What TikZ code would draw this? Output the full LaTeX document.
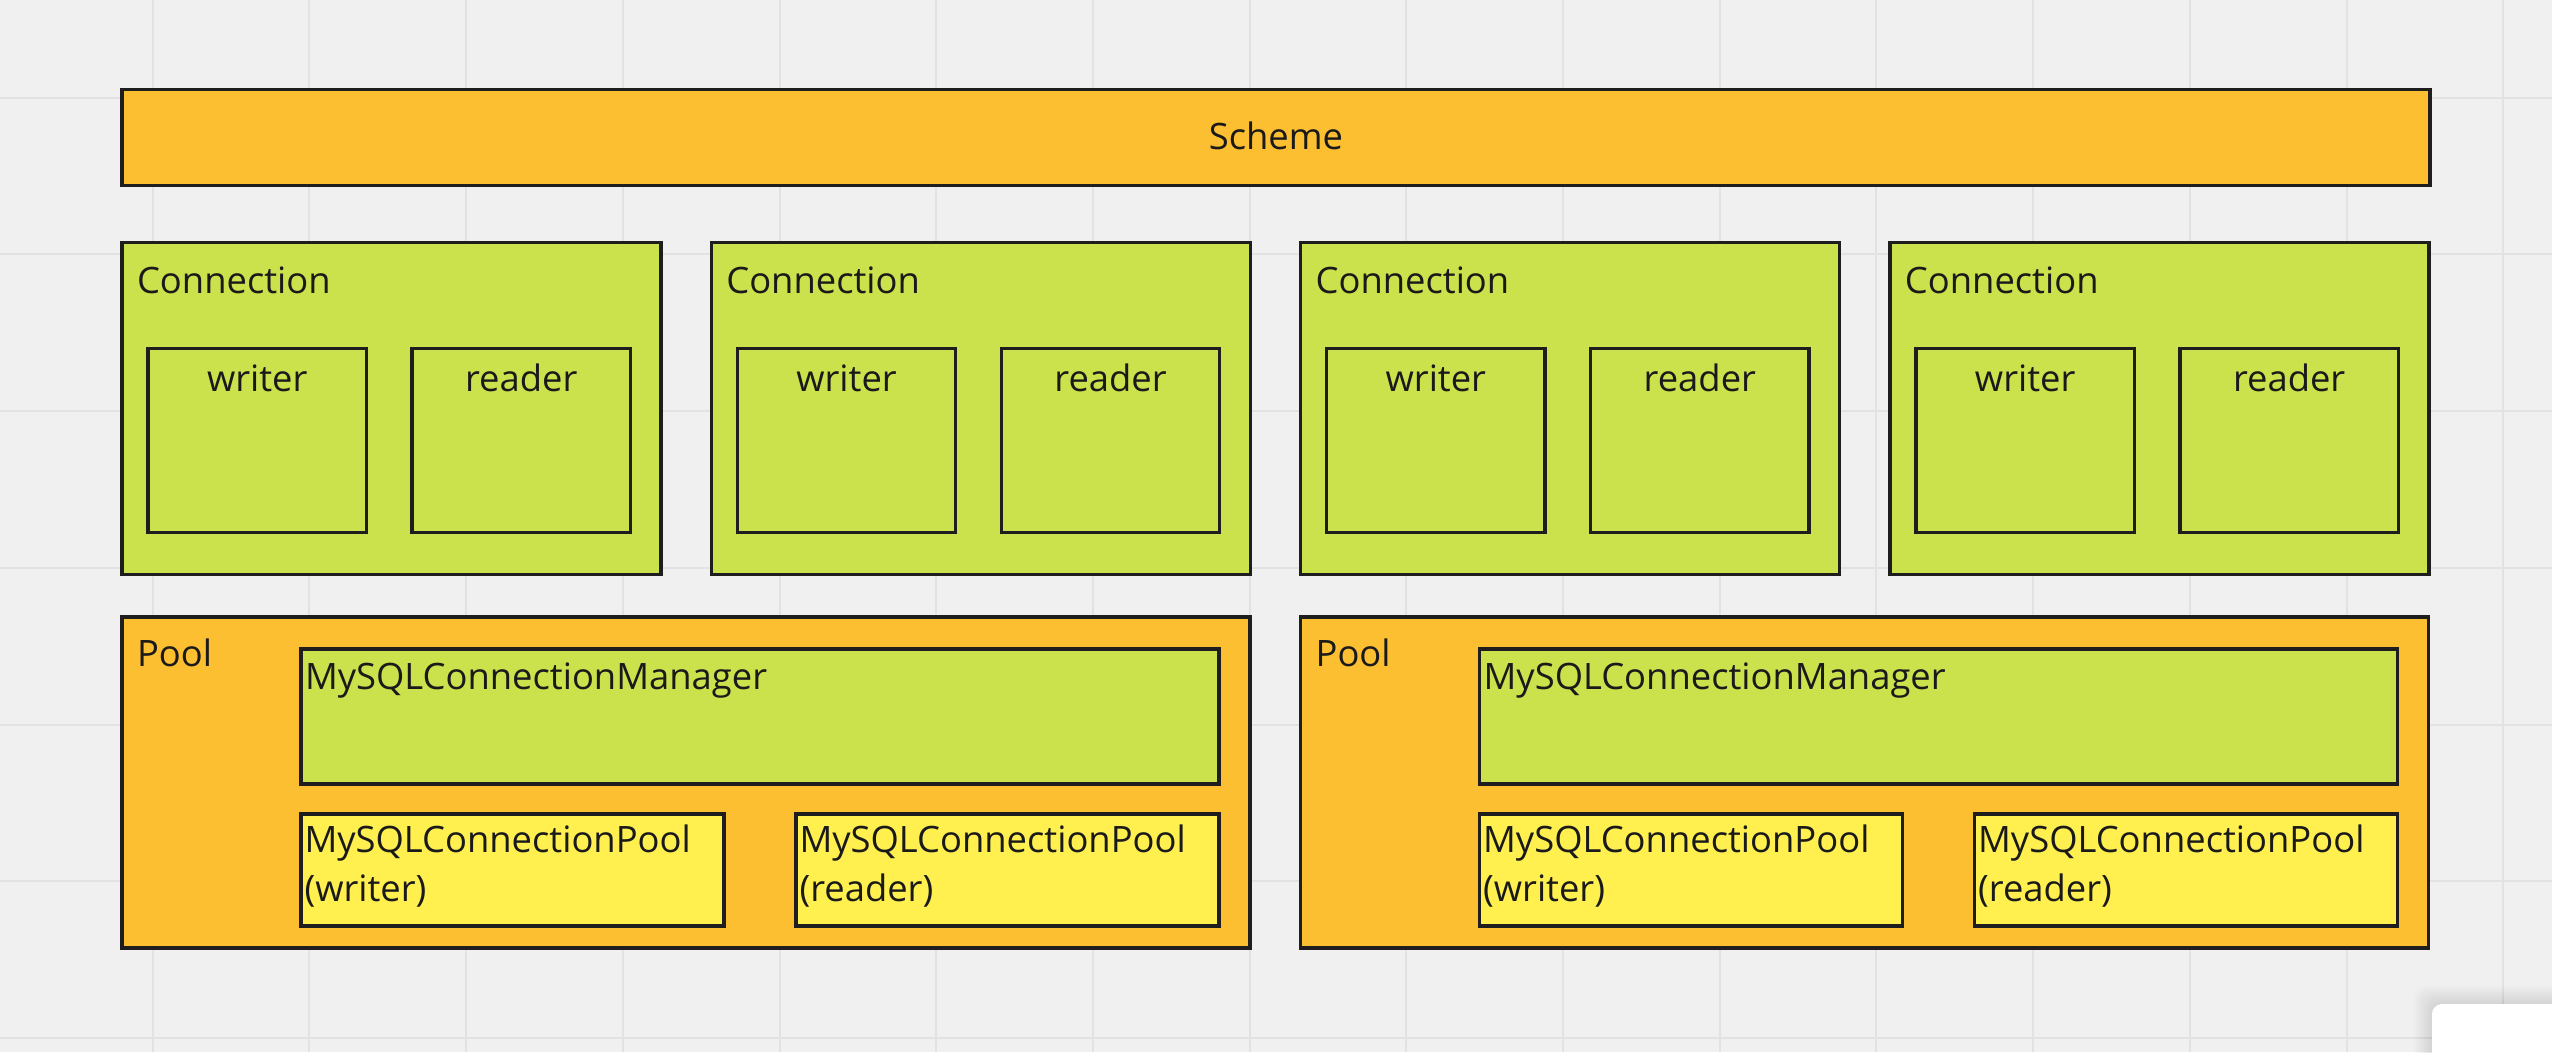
\documentclass[tikz,border=0pt]{standalone}
\usepackage{fontspec}
\setmainfont{Open Sans}
\usetikzlibrary{positioning}
\definecolor{paper}{HTML}{F0F0F0}
\definecolor{gridcol}{HTML}{E2E2E2}
\definecolor{boxorange}{HTML}{FBBF31}
\definecolor{boxgreen}{HTML}{CBE24C}
\definecolor{boxyellow}{HTML}{FFEF4F}
\definecolor{boxline}{HTML}{1E1E1E}
\definecolor{inkcol}{HTML}{1A1A1A}
\newcommand{\twolines}[2]{\parbox[t]{40mm}{\raggedright #1\\#2}}

\begin{document}
\begin{tikzpicture}[x=0.1mm,y=-0.1mm,
font=\fontsize{10.35}{14.1}\selectfont,
every node/.style={inner sep=0pt,outer sep=0pt},
box/.style={draw=boxline,line width=0.95pt,anchor=north west},
obox/.style={box,fill=boxorange},
gbox/.style={box,fill=boxgreen},
ybox/.style={box,fill=boxyellow},
txt/.style={text=inkcol,anchor=base west},
gridline/.style={draw=gridcol,line width=0.57pt}]

%board background with grid
\useasboundingbox (0,0) rectangle (2552,1052);
\fill[paper] (0,0) rectangle (2552,1052);
\begin{scope}
\clip (0,0) rectangle (2552,1052);
\foreach \k in {-1,...,16}
	\draw[gridline] ({152.7+156.7*\k},0) -- ++(0,1052);
\foreach \k in {-1,...,6}
	\draw[gridline] (0,{97.7+156.7*\k}) -- ++(2552,0);
%panel in the corner
\foreach \d in {2,4,...,18}
	\fill[black,opacity=0.01,rounded corners=1.2mm] ({2432-\d},{1004-\d}) rectangle (2620,1100);
\fill[white,rounded corners=1mm] (2432,1004) rectangle (2620,1100);
\end{scope}

%scheme
\node[obox,minimum width=230.8mm,minimum height=9.6mm] (s) at (122,89.5) {};
\node[txt,anchor=base] (ts) at ([shift={(0,60)}]s.north) {Scheme};

%connections, each with writer and reader
\foreach \i in {1,...,4}{
	\node[gbox,minimum width=53.9mm,minimum height=33.2mm] (c\i) at ({122+589.3*(\i-1)},242.5) {};
	\node[txt] (tc\i) at ([shift={(15,51)}]c\i.north west) {Connection};
	\node[gbox,minimum width=21.85mm,minimum height=18.4mm] (c\i1) at ([shift={(26,106)}]c\i.north west) {};
	\node[gbox,minimum width=21.85mm,minimum height=18.4mm] (c\i2) at ([shift={(290,106)}]c\i.north west) {};
	\node[txt,anchor=base] (tc\i1) at ([shift={(0,43)}]c\i1.north) {writer};
	\node[txt,anchor=base] (tc\i2) at ([shift={(0,43)}]c\i2.north) {reader};
}

%pools
\foreach \i in {1,2}{
	\node[obox,minimum width=112.8mm,minimum height=33.1mm] (p\i) at ({122+1178.6*(\i-1)},617) {};
	\node[txt] (tp\i) at ([shift={(15,49)}]p\i.north west) {Pool};
	\node[gbox,minimum width=91.8mm,minimum height=13.5mm] (p\i0) at ([shift={(179,32)}]p\i.north west) {};
	\node[txt] (tp\i0) at ([shift={(4,40)}]p\i0.north west) {MySQLConnectionManager};
	\node[ybox,minimum width=42.3mm,minimum height=11.2mm] (p\i1) at ([shift={(179,197)}]p\i.north west) {};
	\node[ybox,minimum width=42.3mm,minimum height=11.2mm] (p\i2) at ([shift={(674,197)}]p\i.north west) {};
	\node[txt] (tp\i1) at ([shift={(3.5,38)}]p\i1.north west) {\twolines{MySQLConnectionPool}{(writer)}};
	\node[txt] (tp\i2) at ([shift={(3.5,38)}]p\i2.north west) {\twolines{MySQLConnectionPool}{(reader)}};
}
\end{tikzpicture}
\end{document}
